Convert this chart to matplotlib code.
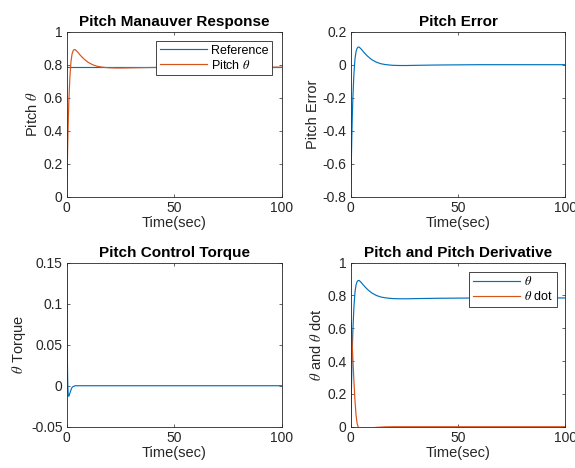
import matplotlib
matplotlib.use("Agg")
import matplotlib.pyplot as plt

plt.rcParams['font.family'] = ['Liberation Sans', 'DejaVu Sans']
plt.rcParams['mathtext.fontset'] = 'stix'
plt.rcParams['axes.unicode_minus'] = False

# time base for pitch / error (sec)
t_pitch = [0, 0.25, 0.5, 0.75, 1, 1.5, 2, 2.5, 3, 3.5, 4, 5, 6, 7, 8, 9, 10,
           12, 14, 16, 18, 20, 23, 26, 30, 35, 40, 50, 60, 70, 80, 90, 100]
pitch = [0, 0.17, 0.33, 0.47, 0.58, 0.73, 0.82, 0.865, 0.885, 0.892, 0.891,
         0.878, 0.862, 0.848, 0.835, 0.824, 0.814, 0.800, 0.791, 0.786,
         0.783, 0.781, 0.780, 0.780, 0.781, 0.782, 0.783, 0.784, 0.785,
         0.785, 0.785, 0.785, 0.785]
pitch_err = [-0.785, -0.615, -0.455, -0.315, -0.205, -0.055, 0.035, 0.08,
             0.1, 0.107, 0.106, 0.093, 0.077, 0.063, 0.05, 0.039, 0.029,
             0.015, 0.006, 0.001, -0.002, -0.004, -0.005, -0.005, -0.004,
             -0.003, -0.002, -0.001, 0, 0, 0, 0, 0]

t_ref = [0, 100]
ref = [0.785, 0.785]

t_torque = [0, 0.1, 0.2, 0.3, 0.4, 0.5, 0.7, 1.0, 1.5, 2, 2.5, 3, 4, 5, 100]
torque = [0.14, 0.10, 0.065, 0.035, 0.015, 0.002, -0.011, -0.013, -0.009,
          -0.005, -0.002, -0.001, 0, 0, 0]

t_dot = [0, 0.25, 0.5, 0.75, 1, 1.5, 2, 2.5, 3, 3.5, 4, 5, 6, 8, 10, 13, 16,
         20, 30, 100]
pitch_dot = [0.65, 0.62, 0.56, 0.49, 0.42, 0.28, 0.16, 0.07, 0.02, -0.002,
             -0.01, -0.014, -0.013, -0.009, -0.006, -0.003, -0.001, 0.0, 0.0,
             0.0]

blue = '#0072BD'
orange = '#D95319'
dark = '#262626'
lw = 0.85

fig = plt.figure(figsize=(5.75, 4.68), dpi=100)

positions = [
    [0.116, 0.5797, 0.3739, 0.3526],
    [0.6099, 0.5797, 0.3732, 0.3526],
    [0.116, 0.0882, 0.3739, 0.3505],
    [0.6099, 0.0882, 0.3732, 0.3505],
]
axs = [fig.add_axes(p) for p in positions]


def style(ax, title, ylabel, ylim, yticks, ylabels):
    ax.set_xlim(0, 100)
    ax.set_xticks([0, 50, 100])
    ax.set_ylim(*ylim)
    ax.set_yticks(yticks)
    ax.set_yticklabels(ylabels)
    ax.tick_params(direction='in', length=2.5, width=0.5, top=True, right=True,
                   labelsize=10, colors=dark, pad=3)
    for s in ax.spines.values():
        s.set_linewidth(0.6)
        s.set_color(dark)
    ax.set_title(title, fontsize=11, fontweight='bold', pad=4)
    ax.set_xlabel('Time(sec)', fontsize=10.5, color=dark, labelpad=1)
    ax.set_ylabel(ylabel, fontsize=10.5, color=dark, labelpad=2)


def legend(ax, anchor):
    leg = ax.legend(loc='upper right', bbox_to_anchor=anchor, borderaxespad=0,
                    fontsize=9, handlelength=3.8, handletextpad=0.3,
                    labelspacing=0.15, borderpad=0.3, fancybox=False,
                    framealpha=1, edgecolor=dark)
    leg.get_frame().set_linewidth(0.6)


ax = axs[0]
ax.plot(t_ref, ref, color=blue, lw=lw, label='Reference')
ax.plot(t_pitch, pitch, color=orange, lw=lw, label=r'Pitch $\theta$')
style(ax, 'Pitch Manauver Response', r'Pitch $\theta$', (0, 1),
      [0, 0.2, 0.4, 0.6, 0.8, 1], ['0', '0.2', '0.4', '0.6', '0.8', '1'])
legend(ax, (0.955, 0.944))

ax = axs[1]
ax.plot(t_pitch, pitch_err, color=blue, lw=lw)
style(ax, 'Pitch Error', 'Pitch Error', (-0.8, 0.2),
      [-0.8, -0.6, -0.4, -0.2, 0, 0.2],
      ['-0.8', '-0.6', '-0.4', '-0.2', '0', '0.2'])

ax = axs[2]
ax.plot(t_torque, torque, color=blue, lw=lw)
style(ax, 'Pitch Control Torque', r'$\theta$ Torque', (-0.05, 0.15),
      [-0.05, 0, 0.05, 0.1, 0.15], ['-0.05', '0', '0.05', '0.1', '0.15'])

ax = axs[3]
ax.plot(t_pitch, pitch, color=blue, lw=lw, label=r'$\theta$')
ax.plot(t_dot, pitch_dot, color=orange, lw=lw, label=r'$\theta$ dot')
style(ax, 'Pitch and Pitch Derivative', r'$\theta$ and $\theta$ dot', (0, 1),
      [0, 0.2, 0.4, 0.6, 0.8, 1], ['0', '0.2', '0.4', '0.6', '0.8', '1'])
legend(ax, (0.96, 0.945))

fig.savefig('out.png', dpi=100)
